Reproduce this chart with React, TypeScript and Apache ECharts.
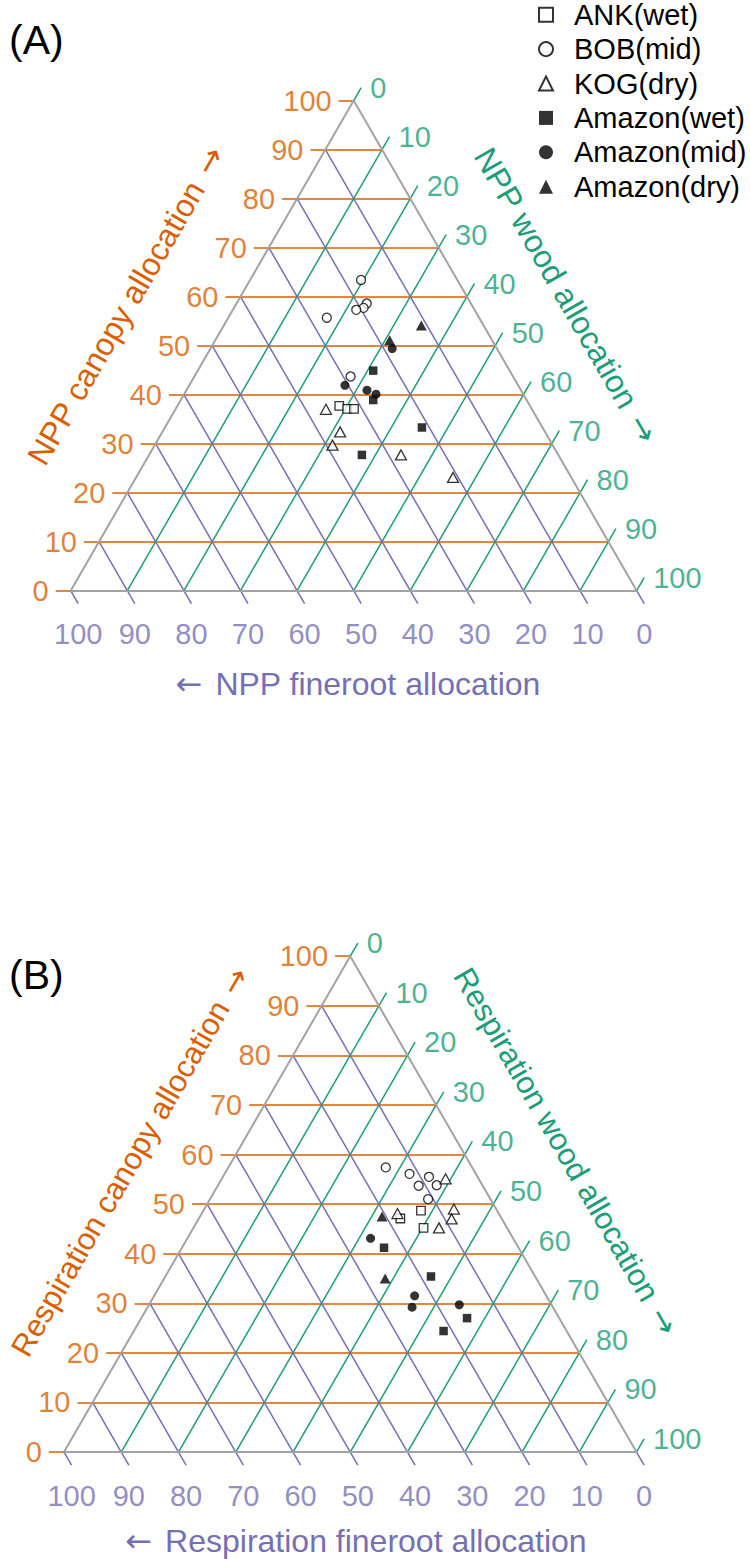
import React, { useEffect, useRef } from "react";
import * as echarts from "echarts";

// ---------- data ----------
const siteNames = ["ANK(wet)", "BOB(mid)", "KOG(dry)", "Amazon(wet)", "Amazon(mid)", "Amazon(dry)"];
const gridLevels = [0, 10, 20, 30, 40, 50, 60, 70, 80, 90, 100];
const tickLabels = ["0", "10", "20", "30", "40", "50", "60", "70", "80", "90", "100"];

// [canopy, wood, fineroot] (%)
const nppANK = [[37.7, 28.6, 33.7], [37.1, 30.3, 32.6], [37.1, 31.5, 31.4]];
const nppBOB = [[63.4, 19.6, 17.0], [58.6, 23.0, 18.4], [57.7, 22.9, 19.4], [57.3, 21.8, 20.9], [55.7, 17.4, 26.9], [43.7, 27.6, 28.7]];
const nppKOG = [[37.0, 26.6, 36.4], [32.4, 31.4, 36.2], [29.7, 31.4, 38.9], [27.7, 44.5, 27.8], [23.1, 56.0, 20.9]];
const nppAmzWet = [[44.9, 31.0, 24.1], [38.9, 34.0, 27.1], [33.3, 45.4, 21.3], [27.7, 37.6, 34.7]];
const nppAmzMid = [[41.9, 27.5, 30.6], [40.9, 31.9, 27.2], [40.1, 33.9, 26.0], [49.4, 32.1, 18.5]];
const nppAmzDry = [[51.1, 30.8, 18.1], [54.1, 34.9, 11.0]];

const respANK = [[48.7, 38.0, 13.3], [47.1, 35.2, 17.7], [45.2, 40.2, 14.6]];
const respBOB = [[57.4, 27.5, 15.1], [56.1, 32.3, 11.6], [55.5, 36.0, 8.5], [53.7, 35.1, 11.2], [53.8, 38.2, 8.0], [51.0, 38.1, 10.9]];
const respKOG = [[55.1, 39.1, 5.8], [49.0, 43.6, 7.4], [47.0, 44.2, 8.8], [45.2, 42.9, 11.9], [48.1, 34.2, 17.7]];
const respAmzWet = [[41.2, 35.3, 23.5], [35.4, 46.4, 18.2], [27.0, 56.9, 16.1], [24.4, 54.1, 21.5]];
const respAmzMid = [[43.1, 32.0, 24.9], [31.5, 45.5, 23.0], [29.2, 46.2, 24.6], [29.7, 54.2, 16.1]];
const respAmzDry = [[47.5, 31.8, 20.7], [35.0, 38.6, 26.4]];

const nppData = [nppANK, nppBOB, nppKOG, nppAmzWet, nppAmzMid, nppAmzDry];
const respData = [respANK, respBOB, respKOG, respAmzWet, respAmzMid, respAmzDry];

// ---------- style ----------
const ORANGE = "#D95F02";
const GREEN = "#1B9E77";
const PURPLE = "#7570B3";
const EDGE = "#A3A3A3";
const FONT = "'Liberation Sans', Arial, Helvetica, sans-serif";
const ARROW_FONT = "'DejaVu Sans', sans-serif";
const TICK = 2.65; // tick extension in ternary units
const TICK_FONT = 29;
const TITLE_FONT = 32;

const symbols = ["rect", "circle", "triangle", "rect", "circle", "triangle"];
const symbolSizes: any[] = [8.5, 9, [11, 10], 8.5, 9, [11, 10]];
const filled = [false, false, false, true, true, true];

// ternary (canopy, wood) -> cartesian axis units
const pos = (c: number, w: number) => [w + c / 2, c];
const tern = (t: number[]) => {
  const s = t[0] + t[1] + t[2];
  return pos((t[0] / s) * 100, (t[1] / s) * 100);
};

function panelSeries(idx: number, data: number[][][]) {
  const ax = { xAxisIndex: idx, yAxisIndex: idx };
  const lines = (coords: number[][][], color: string, width: number, z: number) => ({
    type: "lines",
    coordinateSystem: "cartesian2d",
    ...ax,
    silent: true,
    clip: false,
    z,
    lineStyle: { color, width, opacity: 1 },
    data: coords.map((c) => ({ coords: c })),
  });
  const inner = gridLevels.filter((k) => k > 0 && k < 100);
  const orangeIn = inner.map((k) => [pos(k, 0), pos(k, 100 - k)]);
  const orangeTk = gridLevels.map((k) => [pos(k, -TICK), pos(k, 0)]);
  const greenIn = inner.map((w) => [pos(0, w), pos(100 - w, w)]);
  const greenTk = gridLevels.map((w) => [pos(100 - w, w), pos(100 - w + TICK, w)]);
  const purpleIn = inner.map((f) => [pos(100 - f, 0), pos(0, 100 - f)]);
  const purpleTk = gridLevels.map((f) => [pos(0, 100 - f), pos(-TICK, 100 - f + TICK)]);
  const edges = [
    [pos(0, 0), pos(0, 100)],
    [pos(0, 100), pos(100, 0)],
    [pos(100, 0), pos(0, 0)],
  ];
  const labelSeries = (items: any[], color: string, label: any) => ({
    type: "scatter",
    ...ax,
    silent: true,
    clip: false,
    symbolSize: 0,
    z: 5,
    data: items,
    label: {
      show: true,
      formatter: "{b}",
      color,
      fontSize: TICK_FONT,
      fontFamily: FONT,
      ...label,
    },
    labelLayout: { hideOverlap: false },
  });
  const canopyLabels = gridLevels.map((k, i) => ({ name: tickLabels[i], value: pos(k, -TICK) }));
  const woodLabels = gridLevels.map((w, i) => ({ name: tickLabels[i], value: pos(100 - w + TICK, w) }));
  const rootLabels = gridLevels.map((f, i) => ({ name: tickLabels[i], value: pos(-TICK, 100 - f + TICK) }));

  const scatters = data.map((arr, i) => ({
    type: "scatter",
    name: siteNames[i],
    ...ax,
    clip: false,
    symbol: symbols[i],
    symbolSize: symbolSizes[i],
    z: 10,
    itemStyle: filled[i]
      ? { color: "#000000", borderWidth: 0 }
      : { color: "#ffffff", borderColor: "#000000", borderWidth: 1.3 },
    data: arr.map(tern),
  }));

  return [
    lines(orangeIn, ORANGE, 1.5, 1),
    lines(orangeTk, ORANGE, 1.5, 1),
    lines(greenIn, GREEN, 1.5, 1),
    lines(greenTk, GREEN, 1.5, 1),
    lines(purpleIn, PURPLE, 1.5, 1),
    lines(purpleTk, PURPLE, 1.5, 1),
    lines(edges, EDGE, 2, 2),
    labelSeries(canopyLabels, ORANGE, { position: "left", distance: 7 }),
    labelSeries(woodLabels, GREEN, { position: "right", distance: 9, offset: [0, 4] }),
    labelSeries(rootLabels, PURPLE, { position: "bottom", distance: 16, offset: [3.4, 0] }),
    ...scatters,
  ];
}

const title = (
  text: string,
  x: number,
  y: number,
  color: string,
  rotation = 0,
  size = TITLE_FONT,
  align = "center"
) => ({
  type: "text",
  x,
  y,
  rotation,
  silent: true,
  style: {
    text,
    fill: color,
    fontSize: size,
    lineHeight: Math.round(size * 0.75),
    fontFamily: FONT,
    align,
    verticalAlign: "middle",
    rich: {
      a: {
        fontFamily: ARROW_FONT,
        fontSize: size,
        lineHeight: Math.round(size * 0.75),
        fill: color,
        padding: [0, 4, 0, 4],
      },
    },
  },
});

export default function App() {
  const ref = useRef<HTMLDivElement>(null);
  useEffect(() => {
    if (!ref.current) return;
    const chart = echarts.init(ref.current, null, { renderer: "svg" });
    const sideA = 566;
    const sideB = 572.5;
    const hA = (sideA * Math.sqrt(3)) / 2;
    const hB = (sideB * Math.sqrt(3)) / 2;
    const axis = (gridIndex: number) => ({
      type: "value",
      gridIndex,
      min: 0,
      max: 100,
      show: false,
    });
    chart.setOption({
      animation: false,
      backgroundColor: "#ffffff",
      grid: [
        { left: 70.7, top: 590.7 - hA, width: sideA, height: hA },
        { left: 64, top: 1452 - hB, width: sideB, height: hB },
      ],
      xAxis: [axis(0), axis(1)],
      yAxis: [axis(0), axis(1)],
      legend: {
        data: siteNames,
        orient: "vertical",
        left: 538,
        top: 0,
        padding: 0,
        itemWidth: 14,
        itemHeight: 14,
        itemGap: 5,
        selectedMode: false,
        textStyle: {
          fontSize: 29,
          lineHeight: 29.4,
          color: "#000000",
          fontFamily: FONT,
          padding: [0, 0, 0, 16],
        },
      },
      series: [...panelSeries(0, nppData), ...panelSeries(1, respData)],
      graphic: [
        title("(A)", 9, 40, "#000000", 0, 41, "left"),
        title("(B)", 9, 975, "#000000", 0, 41, "left"),
        title("NPP canopy allocation {a|\u2192}", 127, 304, ORANGE, Math.PI / 3),
        title("NPP wood allocation {a|\u2192}", 567, 297, GREEN, -Math.PI / 3),
        title("{a|\u2190} NPP fineroot allocation", 356, 684, PURPLE),
        title("Respiration canopy allocation {a|\u2192}", 131, 1160, ORANGE, Math.PI / 3, 31),
        title("Respiration wood allocation {a|\u2192}", 567, 1153, GREEN, -Math.PI / 3, 31),
        title("{a|\u2190} Respiration fineroot allocation", 354, 1541, PURPLE),
      ],
    });
    return () => chart.dispose();
  }, []);
  return (
    <div
      ref={ref}
      style={{ position: "absolute", left: 0, top: 0, width: 750, height: 1559, background: "#fff" }}
    />
  );
}
